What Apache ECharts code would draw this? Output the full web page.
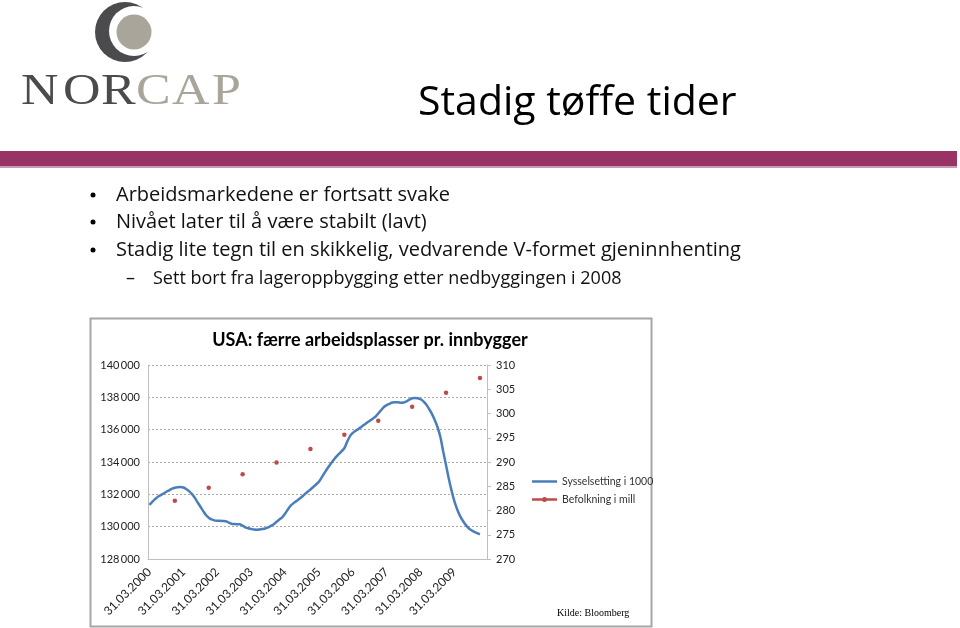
<!DOCTYPE html>
<html>
<head>
<meta charset="utf-8">
<script src="https://cdn.jsdelivr.net/npm/echarts@6/dist/echarts.min.js"></script>
<style>
html,body{margin:0;padding:0;background:#fff;}
#chart{width:960px;height:628px;}
</style>
</head>
<body>
<div id="chart"></div>
<script>
// ---- Data ----
// Monthly employment (thousands), Mar 2000 .. Dec 2009
var employment = [
  131350,131530,131700,131850,131950,132050,132160,132250,132350,132410,            // 2000 Mar-Dec
  132440,132450,132420,132330,132200,132030,131800,131520,131250,130980,130720,130550, // 2001
  130450,130390,130370,130360,130350,130340,130260,130180,130160,130150,130150,130060, // 2002
  129960,129900,129860,129820,129810,129820,129850,129890,129950,130050,130150,130300, // 2003
  130440,130580,130800,131060,131300,131450,131580,131710,131850,132010,132160,132300, // 2004
  132450,132610,132780,133050,133330,133600,133850,134080,134300,134480,134660,134850, // 2005
  135250,135600,135800,135930,136040,136170,136300,136430,136550,136680,136800,137000, // 2006
  137200,137400,137520,137600,137680,137700,137690,137670,137680,137750,137860,137940, // 2007
  137960,137940,137880,137750,137550,137280,136980,136600,136150,135550,134650,133800, // 2008
  132950,132200,131550,131050,130650,130350,130100,129900,129780,129680,129600,129530  // 2009
];
// Population (millions), at each December 2000 .. 2009
var populationYears = [2000,2001,2002,2003,2004,2005,2006,2007,2008,2009];
var population = [282.0,284.7,287.5,289.9,292.7,295.6,298.5,301.4,304.3,307.3];

var seriesNames = ['Sysselsetting i 1000', 'Befolkning i mill'];
var leftTicks = {min:128000, max:140000, step:2000};
var rightTicks = {min:270, max:310, step:5};

// Monthly category labels (month-end dates), Mar 2000 .. Feb 2010
var startYear = 2000, startMonth = 3, nMonths = 120;
var categories = [];
for (var i = 0; i < nMonths; i++) {
  var m = startMonth - 1 + i;
  var y = startYear + Math.floor(m / 12);
  var mm = m % 12 + 1;
  var last = new Date(y, mm, 0).getDate();
  categories.push((last < 10 ? '0' : '') + last + '.' + (mm < 10 ? '0' : '') + mm + '.' + y);
}
var popSeries = categories.map(function(){ return null; });
populationYears.forEach(function(yr, k){
  var idx = categories.indexOf('31.12.' + yr);
  if (idx >= 0) popSeries[idx] = population[k];
});

function fmtThousands(v){
  return String(v).replace(/\B(?=(\d{3})+(?!\d))/g, '\u2009');
}

var chart = echarts.init(document.getElementById('chart'), null, {renderer:'canvas'});

var norcapLetters = [
  {t:'N', x:21, c:'#4b4b4d'},
  {t:'O', x:63, c:'#4b4b4d'},
  {t:'R', x:101, c:'#4b4b4d'},
  {t:'C', x:136, c:'#aaa59b'},
  {t:'A', x:172, c:'#aaa59b'},
  {t:'P', x:212, c:'#aaa59b'}
];

var graphics = [
  // logo
  {type:'circle', shape:{cx:125, cy:32, r:30}, style:{fill:'#4b4b4d'}},
  {type:'circle', shape:{cx:134, cy:31, r:25}, style:{fill:'#ffffff'}},
  {type:'circle', shape:{cx:134, cy:32, r:17.5}, style:{fill:'#aaa59b'}},
  // slide title
  {type:'text', x:418, y:103, style:{text:'Stadig tøffe tider', fill:'#000', font:'41px "Open Sans"', textVerticalAlign:'middle'}},
  // purple bar
  {type:'rect', shape:{x:0, y:151, width:957, height:15}, style:{fill:'#993366'}},
  {type:'rect', shape:{x:0, y:166, width:957, height:2}, style:{fill:'#c99ab2'}},
  // bullets
  {type:'circle', shape:{cx:93, cy:195, r:2.5}, style:{fill:'#000'}},
  {type:'circle', shape:{cx:93, cy:222, r:2.5}, style:{fill:'#000'}},
  {type:'circle', shape:{cx:93, cy:250, r:2.5}, style:{fill:'#000'}},
  {type:'text', x:116, y:195, style:{text:'Arbeidsmarkedene er fortsatt svake', fill:'#111', font:'20px "Open Sans"', textVerticalAlign:'middle'}},
  {type:'text', x:116, y:222, style:{text:'Nivået later til å være stabilt (lavt)', fill:'#111', font:'20px "Open Sans"', textVerticalAlign:'middle'}},
  {type:'text', x:116, y:250, style:{text:'Stadig lite tegn til en skikkelig, vedvarende V-formet gjeninnhenting', fill:'#111', font:'20px "Open Sans"', textVerticalAlign:'middle'}},
  {type:'text', x:126, y:279, style:{text:'–', fill:'#111', font:'18px "Open Sans"', textVerticalAlign:'middle'}},
  {type:'text', x:153, y:279, style:{text:'Sett bort fra lageroppbygging etter nedbyggingen i 2008', fill:'#111', font:'18px "Open Sans"', textVerticalAlign:'middle'}},
  // chart box
  {type:'rect', shape:{x:90.5, y:318.5, width:561, height:308}, style:{fill:'none', stroke:'#a6a6a6', lineWidth:2}},
  {type:'text', x:370, y:340, style:{text:'USA: færre arbeidsplasser pr. innbygger', fill:'#000', font:'bold 18px Lato', textAlign:'center', textVerticalAlign:'middle'}},
  {type:'text', x:557, y:613, style:{text:'Kilde: Bloomberg', fill:'#000', font:'10px "Liberation Serif"', textVerticalAlign:'middle'}}
];
norcapLetters.forEach(function(L){
  graphics.push({type:'text', x:L.x, y:92, scaleX:1.18, style:{text:L.t, fill:L.c, font:'44px "Liberation Serif"', textVerticalAlign:'middle'}});
});

var blueIcon = 'path://M0,0 L25,0 L25,2.5 L0,2.5 Z';
var redIcon = 'path://M0,2 L25,2 L25,4.5 L0,4.5 Z M10,3.25 A2.5,2.5 0 1 1 15,3.25 A2.5,2.5 0 1 1 10,3.25 Z';

var option = {
  animation:false,
  backgroundColor:'#fff',
  textStyle:{fontFamily:'Lato'},
  legend:[
    {
      orient:'vertical', left:527, top:471, itemWidth:25, itemHeight:2.5,
      textStyle:{fontSize:10.5, color:'#333', fontFamily:'Lato'},
      data:[{name:seriesNames[0], icon:blueIcon}], selectedMode:false
    },
    {
      orient:'vertical', left:527, top:489, itemWidth:25, itemHeight:6.5,
      textStyle:{fontSize:10.5, color:'#333', fontFamily:'Lato'},
      data:[{name:seriesNames[1], icon:redIcon}], selectedMode:false
    }
  ],
  grid:{left:148, right:473, top:365, bottom:69, containLabel:false},
  xAxis:{
    type:'category', data:categories, boundaryGap:true,
    axisLine:{lineStyle:{color:'#bfbfbf'}},
    axisTick:{show:false},
    axisLabel:{interval:11, rotate:45, fontSize:12, color:'#222', fontFamily:'Lato', margin:11}
  },
  yAxis:[
    {
      type:'value', min:leftTicks.min, max:leftTicks.max, interval:leftTicks.step,
      axisLine:{show:true, lineStyle:{color:'#bfbfbf'}},
      axisTick:{show:false},
      axisLabel:{formatter:fmtThousands, fontSize:11, color:'#222', fontFamily:'Lato', margin:8},
      splitLine:{show:true, lineStyle:{color:'#a8a8a8', type:[2,2], width:1}}
    },
    {
      type:'value', min:rightTicks.min, max:rightTicks.max, interval:rightTicks.step, position:'right',
      axisLine:{show:true, lineStyle:{color:'#bfbfbf'}},
      axisTick:{show:true, length:4, lineStyle:{color:'#bfbfbf'}},
      axisLabel:{fontSize:11, color:'#222', fontFamily:'Lato', margin:9},
      splitLine:{show:false}
    }
  ],
  series:[
    {
      name:seriesNames[0], type:'line', yAxisIndex:0, data:employment,
      symbol:'none', smooth:0.3,
      lineStyle:{color:'#4a7ebb', width:2.5}, itemStyle:{color:'#4a7ebb'}
    },
    {
      name:seriesNames[1], type:'line', yAxisIndex:1, data:popSeries,
      symbol:'circle', symbolSize:4.5, showSymbol:true, showAllSymbol:true, connectNulls:false,
      lineStyle:{color:'#be4b48', width:2.5}, itemStyle:{color:'#be4b48'}
    }
  ],
  graphic:graphics
};
chart.setOption(option);
</script>
</body>
</html>
